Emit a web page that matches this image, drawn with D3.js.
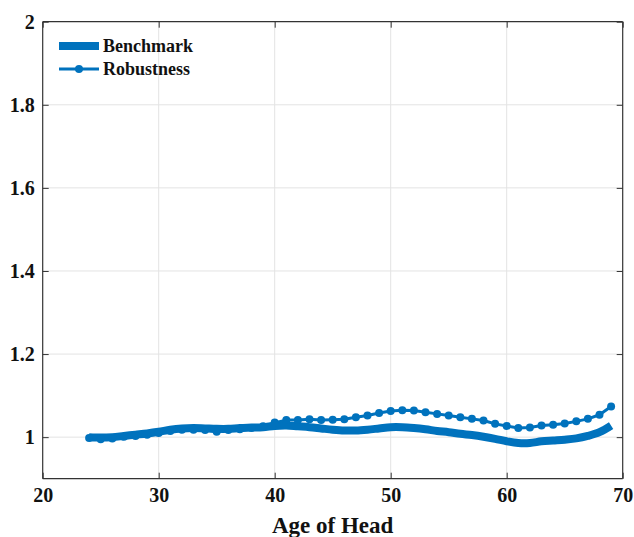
<!DOCTYPE html>
<html>
<head>
<meta charset="utf-8">
<script src="https://cdn.jsdelivr.net/npm/d3@7/dist/d3.min.js"></script>
<style>
  html, body { margin: 0; padding: 0; background: #fff; }
  svg { display: block; }
  text { font-family: "Liberation Serif", "Times New Roman", serif; font-weight: bold; fill: #111; }
</style>
</head>
<body>
<svg id="chart" width="634" height="537"></svg>
<script>
// Age of household head
const ages = d3.range(24, 70);

// Benchmark profile
const benchmark = [
  1.000, 0.999, 1.000, 1.003, 1.006, 1.009, 1.013, 1.018, 1.021, 1.022,
  1.021, 1.020, 1.020, 1.022, 1.023, 1.024, 1.027, 1.028, 1.026, 1.024,
  1.021, 1.018, 1.016, 1.016, 1.018, 1.021, 1.024, 1.024, 1.022, 1.019,
  1.015, 1.012, 1.008, 1.005, 1.001, 0.996, 0.990, 0.986, 0.986, 0.990,
  0.992, 0.994, 0.997, 1.003, 1.012, 1.028
];

// Robustness profile
const robustness = [
  0.998, 0.995, 0.997, 1.001, 1.003, 1.006, 1.010, 1.015, 1.018, 1.018,
  1.017, 1.013, 1.017, 1.019, 1.022, 1.026, 1.035, 1.041, 1.041, 1.043,
  1.041, 1.042, 1.043, 1.048, 1.052, 1.058, 1.063, 1.065, 1.064, 1.060,
  1.056, 1.052, 1.048, 1.044, 1.040, 1.032, 1.027, 1.022, 1.023, 1.028,
  1.030, 1.033, 1.038, 1.044, 1.054, 1.074
];

const xTicks = [20, 30, 40, 50, 60, 70];
const yTicks = [1, 1.2, 1.4, 1.6, 1.8, 2];
const seriesNames = ["Benchmark", "Robustness"];

const blue = "#0072BD";
const axisColor = "#333";
const gridColor = "#e3e3e3";

const svg = d3.select("#chart");
const plotLeft = 42.7, plotRight = 622.7, plotTop = 21.7, plotBottom = 478.7;

const x = d3.scaleLinear().domain([20, 70]).range([plotLeft, plotRight]);
const y = d3.scaleLinear().domain([0.9, 2]).range([plotBottom, plotTop]);

// grid
const grid = svg.append("g");
grid.selectAll("line.gx").data(xTicks.slice(1, -1)).join("line")
  .attr("x1", d => x(d)).attr("x2", d => x(d))
  .attr("y1", plotTop).attr("y2", plotBottom)
  .attr("stroke", gridColor).attr("stroke-width", 1);
grid.selectAll("line.gy").data(yTicks.slice(0, -1)).join("line")
  .attr("x1", plotLeft).attr("x2", plotRight)
  .attr("y1", d => y(d)).attr("y2", d => y(d))
  .attr("stroke", gridColor).attr("stroke-width", 1);

// series
const benchData = ages.map((a, i) => [a, benchmark[i]]);
const robData = ages.map((a, i) => [a, robustness[i]]);

const smooth = d3.line().x(d => x(d[0])).y(d => y(d[1])).curve(d3.curveCatmullRom);
const straight = d3.line().x(d => x(d[0])).y(d => y(d[1]));

svg.append("path").datum(benchData)
  .attr("d", smooth).attr("fill", "none")
  .attr("stroke", blue).attr("stroke-width", 8).attr("stroke-linejoin", "round");

svg.append("path").datum(robData)
  .attr("d", straight).attr("fill", "none")
  .attr("stroke", blue).attr("stroke-width", 3).attr("stroke-linejoin", "round");

svg.append("g").selectAll("circle").data(robData).join("circle")
  .attr("cx", d => x(d[0])).attr("cy", d => y(d[1])).attr("r", 4)
  .attr("fill", blue);

// axes box
const xAxisB = d3.axisBottom(x).tickValues(xTicks).tickSize(-6).tickPadding(9).tickFormat(d3.format("d"));
const xAxisT = d3.axisTop(x).tickValues(xTicks).tickSize(-6).tickFormat("");
const yAxisL = d3.axisLeft(y).tickValues(yTicks).tickSize(-6).tickPadding(8).tickFormat(d => String(+d.toFixed(1)));
const yAxisR = d3.axisRight(y).tickValues(yTicks).tickSize(-6).tickFormat("");

function styleAxis(g) {
  g.select(".domain").attr("stroke", axisColor).attr("stroke-width", 1.2);
  g.selectAll(".tick line").attr("stroke", axisColor).attr("stroke-width", 1);
  g.selectAll(".tick text").attr("font-size", 20).attr("fill", "#111")
    .attr("font-family", "Liberation Serif, Times New Roman, serif").attr("font-weight", "bold");
}

svg.append("g").attr("transform", `translate(0,${plotBottom})`).call(xAxisB).call(styleAxis)
  .call(g => g.select(".domain").attr("d", `M${plotLeft},0H${plotRight}`));
svg.append("g").attr("transform", `translate(0,${plotTop})`).call(xAxisT).call(styleAxis)
  .call(g => g.select(".domain").attr("d", `M${plotLeft},0H${plotRight}`));
svg.append("g").attr("transform", `translate(${plotLeft},0)`).call(yAxisL).call(styleAxis)
  .call(g => g.select(".domain").attr("d", `M0,${plotTop}V${plotBottom}`));
svg.append("g").attr("transform", `translate(${plotRight},0)`).call(yAxisR).call(styleAxis)
  .call(g => g.select(".domain").attr("d", `M0,${plotTop}V${plotBottom}`));

// axis label
svg.append("text")
  .attr("x", (plotLeft + plotRight) / 2).attr("y", 533)
  .attr("text-anchor", "middle").attr("font-size", 23)
  .text("Age of Head");

// legend
const legend = svg.append("g");
legend.append("line").attr("x1", 59).attr("x2", 99).attr("y1", 46).attr("y2", 46)
  .attr("stroke", blue).attr("stroke-width", 8);
legend.append("text").attr("x", 103).attr("y", 52).attr("font-size", 18).text(seriesNames[0]);
legend.append("line").attr("x1", 59).attr("x2", 99).attr("y1", 69).attr("y2", 69)
  .attr("stroke", blue).attr("stroke-width", 3);
legend.append("circle").attr("cx", 79).attr("cy", 69).attr("r", 4).attr("fill", blue);
legend.append("text").attr("x", 103).attr("y", 75).attr("font-size", 18).text(seriesNames[1]);
</script>
</body>
</html>
